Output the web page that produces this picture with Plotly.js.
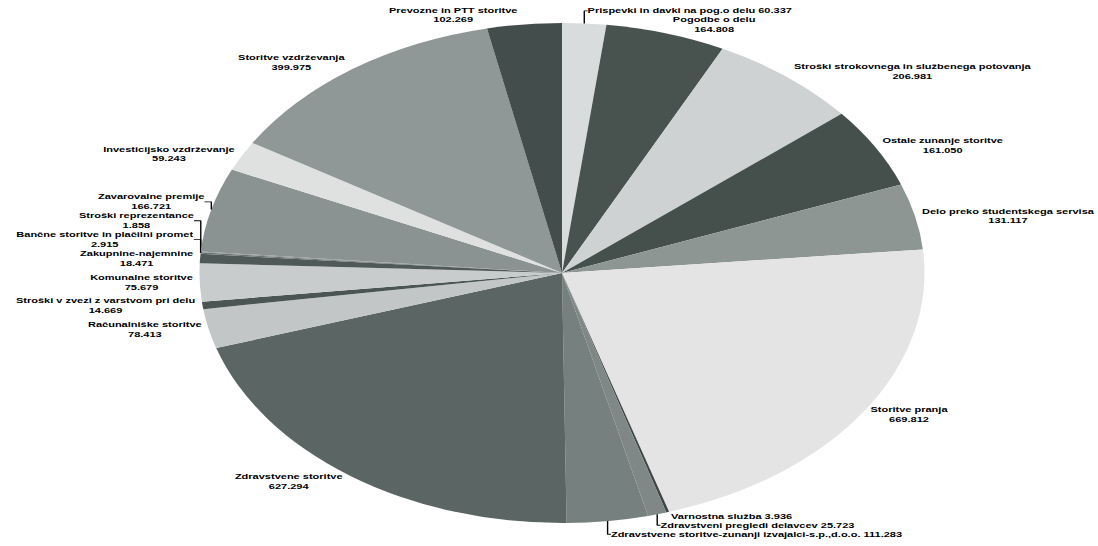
<!DOCTYPE html>
<html>
<head>
<meta charset="utf-8">
<script src="https://cdn.plot.ly/plotly-3.0.1.min.js"></script>
<style>
  html, body { margin: 0; padding: 0; background: #fff; overflow: hidden; }
  #wrap { width: 1098px; height: 546px; overflow: hidden; }
  /* the pie is drawn round and then widened into an ellipse */
  #chart { width: 757px; height: 546px; transform: scaleX(1.45); transform-origin: 0 0; }
</style>
</head>
<body>
<div id="wrap"><div id="chart"></div></div>
<script>
const categories = [
  "Prispevki in davki na pog.o delu",
  "Pogodbe o delu",
  "Stroški strokovnega in službenega potovanja",
  "Ostale zunanje storitve",
  "Delo preko študentskega servisa",
  "Storitve pranja",
  "Varnostna služba",
  "Zdravstveni pregledi delavcev",
  "Zdravstvene storitve-zunanji izvajalci-s.p.,d.o.o.",
  "Zdravstvene storitve",
  "Računalniške storitve",
  "Stroški v zvezi z varstvom pri delu",
  "Komunalne storitve",
  "Zakupnine-najemnine",
  "Bančne storitve in plačilni promet",
  "Stroški reprezentance",
  "Zavarovalne premije",
  "Investicijsko vzdrževanje",
  "Storitve vzdrževanja",
  "Prevozne in PTT storitve"
];

const amounts = [
  60.337, 164.808, 206.981, 161.050, 131.117,
  669.812, 3.936, 25.723, 111.283, 627.294,
  78.413, 14.669, 75.679, 18.471, 2.915,
  1.858, 166.721, 59.243, 399.975, 102.269
];

const sliceColors = [
  "#d9dcdc", "#48524f", "#cfd2d2", "#45504d", "#8e9694",
  "#e4e4e4", "#3e4745", "#7f8886", "#76807e", "#5b6563",
  "#c3c6c6", "#4b5553", "#c9cccc", "#4f5957", "#6a7371",
  "#8a9290", "#8a9391", "#dfe1e1", "#8f9896", "#434d4b"
];

// slices near the top and bottom edge get their label on a single line
const singleLine = new Set([0, 6, 7, 8]);
const templates = categories.map((_, i) =>
  singleLine.has(i) ? "%{label} %{value:.3f}" : "%{label}<br>%{value:.3f}");

const trace = {
  type: "pie",
  labels: categories,
  values: amounts,
  sort: false,
  direction: "clockwise",
  rotation: 0,
  marker: { colors: sliceColors, line: { width: 0 } },
  textposition: "outside",
  texttemplate: templates,
  outsidetextfont: { family: "Liberation Sans, Arial, sans-serif", size: 7.6, color: "#000", weight: "bold" },
  domain: { x: [0.1817, 0.8423], y: [0.0421, 0.9579] },
  automargin: false,
  showlegend: false,
  hoverinfo: "none"
};

const layout = {
  width: 757,
  height: 546,
  margin: { l: 0, r: 0, t: 0, b: 0 },
  paper_bgcolor: "#fff",
  plot_bgcolor: "#fff",
  showlegend: false
};

Plotly.newPlot("chart", [trace], layout, { staticPlot: true, displayModeBar: false });
</script>
</body>
</html>
